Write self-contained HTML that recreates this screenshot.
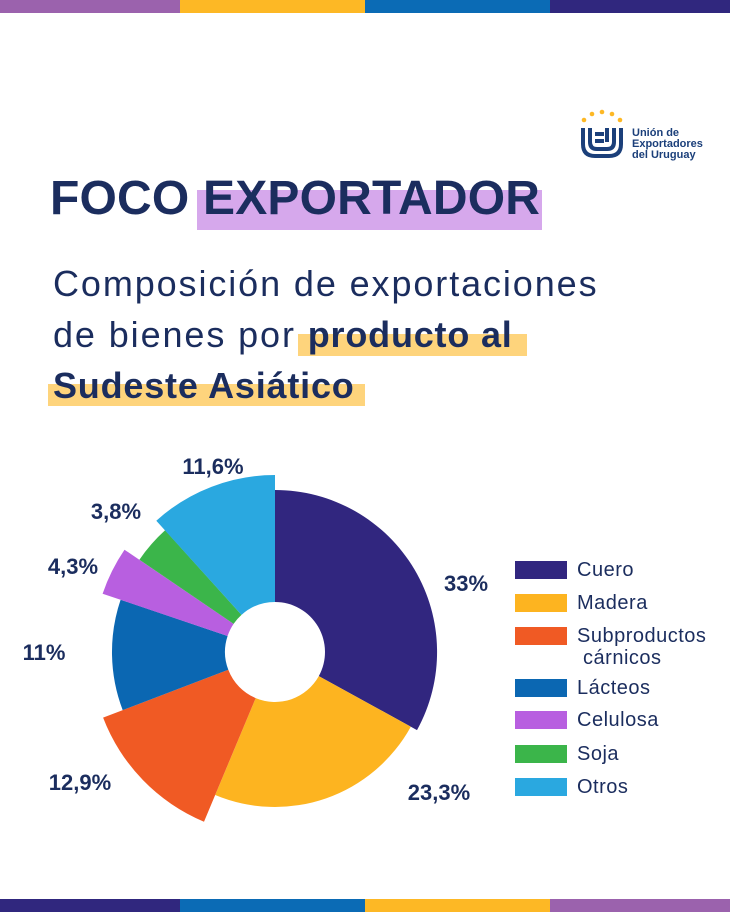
<!DOCTYPE html>
<html><head><meta charset="utf-8"><style>
body{margin:0;width:730px;height:912px;background:#fff;position:relative;overflow:hidden;font-family:"Liberation Sans",sans-serif;color:#1b2d5e}
.bar{position:absolute;height:13px}
.t{position:absolute;white-space:nowrap}
.hl{position:absolute}
.leg{position:absolute;left:515px;width:52px;height:18px}
.lt{position:absolute;left:577px;font-size:20px;line-height:22px;color:#1b2d5e;letter-spacing:0.5px}
</style></head><body>
<div class="bar" style="top:0;left:0;width:180px;background:#9b62ad"></div>
<div class="bar" style="top:0;left:180px;width:185px;background:#fdb825"></div>
<div class="bar" style="top:0;left:365px;width:185px;background:#0b6bb5"></div>
<div class="bar" style="top:0;left:550px;width:180px;background:#30277e"></div>
<div class="bar" style="top:899px;left:0;width:180px;background:#30277e"></div>
<div class="bar" style="top:899px;left:180px;width:185px;background:#0b6bb5"></div>
<div class="bar" style="top:899px;left:365px;width:185px;background:#fdb825"></div>
<div class="bar" style="top:899px;left:550px;width:180px;background:#9b62ad"></div>

<svg style="position:absolute;left:578px;top:108px" width="50" height="52">
<g fill="#fdb825"><circle cx="6" cy="12" r="2.3"/><circle cx="14" cy="6" r="2.3"/><circle cx="24" cy="4" r="2.3"/><circle cx="34" cy="6" r="2.3"/><circle cx="42" cy="12" r="2.3"/></g>
<path d="M5 20 V36 Q5 48 17 48 H31 Q43 48 43 36 V20 M12 20 V34 Q12 41 19 41 H29 Q36 41 36 34 V20 M17 26 H26 M17 33 H26 M29 20 V34" fill="none" stroke="#1b3f7a" stroke-width="4"/>
</svg>
<div class="t" style="left:632px;top:128px;font-size:11px;line-height:11px;font-weight:bold;color:#1b3f7a">Unión de<br>Exportadores<br>del Uruguay</div>

<div class="hl" style="left:197px;top:190px;width:345px;height:40px;background:#d6a8ec"></div>
<div class="t" style="left:50px;top:170px;font-size:48px;font-weight:bold;line-height:58px;color:#1b2d5e;letter-spacing:0.2px">FOCO EXPORTADOR</div>

<div class="hl" style="left:298px;top:334px;width:229px;height:22px;background:#fed47c"></div>
<div class="hl" style="left:48px;top:384px;width:317px;height:22px;background:#fed47c"></div>
<div class="t" style="left:53px;top:258px;font-size:36px;line-height:51px;color:#1b2d5e;letter-spacing:1.9px">Composición de exportaciones<br>de bienes por <b style="letter-spacing:0.8px">producto al</b><br><b style="letter-spacing:0.8px">Sudeste Asiático</b></div>

<svg style="position:absolute;left:0;top:0" width="730" height="912">
<path d="M275 490 A162 162 0 0 1 417 730.1 L318.8 676.1 A50 50 0 0 0 275 602Z" fill="#31267f"/>
<path d="M410.8 726.7 A155 155 0 0 1 215.2 795 L255.7 698.1 A50 50 0 0 0 318.8 676.1Z" fill="#fdb420"/>
<path d="M204 821.7 A184 184 0 0 1 103.1 717.6 L228.3 669.8 A50 50 0 0 0 255.7 698.1Z" fill="#f05a24"/>
<path d="M122.7 710.1 A163 163 0 0 1 120.6 599.7 L227.6 636 A50 50 0 0 0 228.3 669.8Z" fill="#0b67b2"/>
<path d="M102.6 593.7 A182 182 0 0 1 124.5 549.7 L233.6 623.9 A50 50 0 0 0 227.6 636Z" fill="#b85fe0"/>
<path d="M139.4 559.8 A164 164 0 0 1 165.1 530.3 L241.5 614.9 A50 50 0 0 0 233.6 623.9Z" fill="#3bb54a"/>
<path d="M156.3 520.7 A177 177 0 0 1 275 475 L275 602 A50 50 0 0 0 241.5 614.9Z" fill="#2aa8e0"/>
<g font-family="Liberation Sans" font-weight="bold" font-size="22" fill="#1b2d5e" text-anchor="middle">
<text x="466" y="591">33%</text>
<text x="439" y="800">23,3%</text>
<text x="80" y="790">12,9%</text>
<text x="44" y="660">11%</text>
<text x="73" y="574">4,3%</text>
<text x="116" y="519">3,8%</text>
<text x="213" y="474">11,6%</text>
</g>
</svg>

<div class="leg" style="top:561px;background:#31267f"></div><div class="lt" style="top:559px">Cuero</div>
<div class="leg" style="top:594px;background:#fdb420"></div><div class="lt" style="top:592px">Madera</div>
<div class="leg" style="top:627px;background:#f05a24"></div><div class="lt" style="top:625px">Subproductos<br>&nbsp;cárnicos</div>
<div class="leg" style="top:679px;background:#0b67b2"></div><div class="lt" style="top:677px">Lácteos</div>
<div class="leg" style="top:711px;background:#b85fe0"></div><div class="lt" style="top:709px">Celulosa</div>
<div class="leg" style="top:745px;background:#3bb54a"></div><div class="lt" style="top:743px">Soja</div>
<div class="leg" style="top:778px;background:#2aa8e0"></div><div class="lt" style="top:776px">Otros</div>
</body></html>
